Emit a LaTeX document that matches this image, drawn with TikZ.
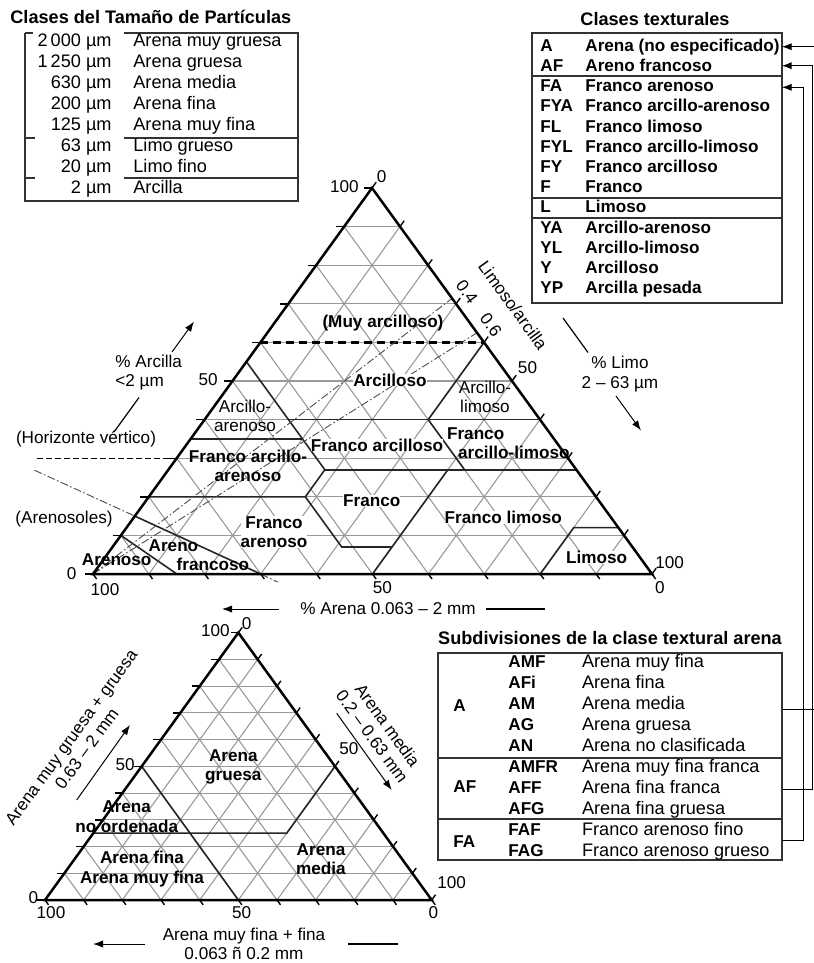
\documentclass[tikz,border=0pt]{standalone}
\usepackage{fontspec}
\setmainfont{Liberation Sans}
\usetikzlibrary{arrows.meta}
\newcommand{\fN}{\fontsize{8.6}{9.6}\selectfont}
\newcommand{\fT}{\fontsize{9.1}{10}\selectfont}

\begin{document}
\begin{tikzpicture}[
    x=0.5bp, y=-0.5bp,
    font=\fN,
    gridl/.style={black!40, line width=0.55bp},
    tedge/.style={line width=1.25bp},
    tickl/.style={line width=0.7bp},
    bound/.style={line width=0.8bp, black!85},
    ratio/.style={line width=0.45bp, black!70, dash pattern=on 4bp off 1.2bp on 0.8bp off 1.2bp},
    vert/.style={line width=0.45bp, dash pattern=on 3bp off 1.5bp},
    heavy/.style={line width=1.2bp, dash pattern=on 4bp off 2.5bp},
    lbl/.style={inner sep=0pt, align=center, font=\fN\bfseries},
    lblw/.style={lbl, fill=white},
    lblr/.style={inner sep=0pt, align=center},
    num/.style={inner sep=0pt},
    arr/.style={-{Latex[length=5bp,width=3.6bp]}, line width=0.5bp},
    tbox/.style={line width=0.9bp, black!80},
    trow/.style={anchor=west, inner sep=0pt, text height=6.3bp, text depth=1.8bp, font=\fT},
    trowb/.style={trow, font=\fN\bfseries},
    link/.style={line width=0.6bp}
  ]
  \useasboundingbox (0,0) rectangle (814,963);

  % particle size classes
  \node[anchor=west, inner sep=0pt, font=\fT\bfseries] (ttlSize) at (10,17) {Clases del Tamaño de Partículas};
  \draw[tbox] (25,33) -- (25,201) -- (298,201) -- (298,33) -- (124,33);
  \draw[tbox] (25,33) -- (33,33);
  \draw[tbox] (25,138) -- (35,138) (124,138) -- (298,138);
  \draw[tbox] (25,178) -- (35,178) (124,178) -- (298,178);
  \foreach \v/\t [count=\i] in {2\,000/Arena muy gruesa, 1\,250/Arena gruesa, 630/Arena media,
      200/Arena fina, 125/Arena muy fina, 63/Limo grueso, 20/Limo fino, 2/Arcilla} {
    \node[trow, anchor=east] (szv\i) at (112,{21+21*\i}) {\v~µm};
    \node[trow] (szn\i) at (133,{21+21*\i}) {\t};
  }

  % textural classes
  \node[font=\fT\bfseries, inner sep=0pt] (ttlTex) at (655,19) {Clases texturales};
  \draw[tbox] (531.7,33.3) rectangle (781.7,303.3);
  \draw[tbox] (531.7,76) -- (781.7,76) (531.7,198.3) -- (781.7,198.3) (531.7,218.3) -- (781.7,218.3);
  \foreach \c/\t [count=\i] in {A/Arena (no especificado), AF/Areno francoso, FA/Franco arenoso,
      FYA/Franco arcillo-arenoso, FL/Franco limoso, FYL/Franco arcillo-limoso, FY/Franco arcilloso,
      F/Franco, L/Limoso, YA/Arcillo-arenoso, YL/Arcillo-limoso, Y/Arcilloso, YP/Arcilla pesada} {
    \node[trowb] (tx\i) at (540,{26.5+20.2*\i}) {\c};
    \node[trowb] (txn\i) at (585,{26.5+20.2*\i}) {\t};
  }

  % sand subclasses
  \node[font=\fT\bfseries, inner sep=0pt] (ttlSub) at (610,638) {Subdivisiones de la clase textural arena};
  \draw[tbox] (438.3,653.3) rectangle (781.7,860);
  \draw[tbox] (438.3,757.7) -- (781.7,757.7) (438.3,819) -- (781.7,819);
  \node[trowb] (sgA) at (453,707.3) {A};
  \node[trowb] (sgAF) at (453,788) {AF};
  \node[trowb] (sgFA) at (453,842.7) {FA};
  \foreach \c/\t [count=\i] in {AMF/Arena muy fina, AFi/Arena fina, AM/Arena media, AG/Arena gruesa,
      AN/Arena no clasificada, AMFR/Arena muy fina franca, AFF/Arena fina franca,
      AFG/Arena fina gruesa, FAF/Franco arenoso fino, FAG/Franco arenoso grueso} {
    \node[trowb] (sb\i) at (508,{642.4+20.93*\i}) {\c};
    \node[trow] (sbn\i) at (581.7,{642.4+20.93*\i}) {\t};
  }

  % links between the tables
  \coordinate (ctA) at (781.7,46.7);
  \coordinate (ctAF) at (781.7,65.7);
  \coordinate (ctFA) at (781.7,87.3);
  \coordinate (sbA) at (781.7,709.3);
  \coordinate (sbAF) at (781.7,789.3);
  \coordinate (sbFA) at (781.7,840);
  \coordinate (busA) at (817,0);
  \coordinate (busAF) at (812.5,0);
  \coordinate (busFA) at (803.3,0);
  \draw[link, arr] (sbA) -- (sbA -| busA) -- (ctA -| busA) -- (ctA);
  \draw[link, arr] (sbAF) -- (sbAF -| busAF) -- (ctAF -| busAF) -- (ctAF);
  \draw[link, arr] (sbFA) -- (sbFA -| busFA) -- (ctFA -| busFA) -- (ctFA);

  % main triangle (silt, clay)
  \begin{scope}[shift={(93,574)}, x={(2.795bp,0bp)}, y={(1.395bp,1.93bp)}]
    \foreach \i in {10,20,...,90} {
      \draw[gridl] (0,\i) -- ({100-\i},\i);
      \draw[gridl] (\i,0) -- (\i,{100-\i});
      \draw[gridl] ({100-\i},0) -- (0,{100-\i});
    }
    \foreach \i in {0,10,...,100} {
      \draw[tickl] (0,\i) -- (-1.5,\i);
      \draw[tickl] (\i,{100-\i}) -- (\i,{101.5-\i});
      \draw[tickl] (\i,0) -- ({\i+1.3},-1.3);
    }
    \draw[bound] (15,0) -- (0,10);
    \draw[bound] (30,0) -- (0,15);
    \draw[bound] (0,20) -- (28,20) -- (28,27) -- (0,55);
    \draw[bound] (28,20) -- (41,7) -- (50,7);
    \draw[bound] (50,0) -- (50,27);
    \draw[bound] (28,27) -- (73,27);
    \draw[bound] (0,35) -- (20,35);
    \draw[bound] (15,40) -- (60,40);
    \draw[bound] (53,27) -- (40,40) -- (40,60);
    \draw[bound] (80,0) -- (80,12) -- (88,12);
    \draw[heavy] (0,60) -- (40,60);
    \draw[ratio] (0,0) -- (28.6,71.4);
    \draw[ratio] (0,0) -- (37.5,62.5);
    \draw[ratio] (-23.9,26.9) -- (0,15);
    \draw[ratio] (30,0) -- (34.1,-2.1);
    \draw[vert] (-25,30) -- (0,30);
    \draw[tedge] (0,0) coordinate (mL) -- (100,0) coordinate (mR) -- (0,100) coordinate (mT) -- cycle;
  \end{scope}

  % main triangle labels
  \node[lbl] (lblMA) at (383,323) {(Muy arcilloso)};
  \node[lblw] (lblY) at (390,380) {Arcilloso};
  \node[lblr] (lblYL) at (485,397) {Arcillo-\\limoso};
  \node[lblr] (lblYA) at (245,416) {Arcillo-\\arenoso};
  \node[lblw] (lblFY) at (377,445) {Franco arcilloso};
  \node[lbl, anchor=west, align=left] (lblFYL) at (446.7,443.5) {Franco\\\hspace*{5.5bp}arcillo-limoso};
  \node[lbl] (lblFYA) at (248,466) {Franco arcillo-\\arenoso};
  \node[lblw] (lblF) at (371.7,500.7) {Franco};
  \node[lblw] (lblFL) at (503.3,517.3) {Franco limoso};
  \node[lblw] (lblL) at (596.7,557.3) {Limoso};
  \node[lblw] (lblFA) at (274,532) {Franco\\arenoso};
  \node[lbl, anchor=west, align=left] (lblAF) at (148.3,555) {Areno\\\hspace*{14bp}francoso};
  \node[lbl] (lblA) at (116.7,559.3) {Arenoso};

  \node[num, anchor=east] (nT1) at (359,187) {100};
  \node[num] (nT2) at (381.7,177) {0};
  \node[num, anchor=east] (nL50) at (218,380) {50};
  \node[num] (nL0) at (71.7,573.3) {0};
  \node[num] (nB100) at (105,590) {100};
  \node[num] (nB50) at (382.5,588) {50};
  \node[num] (nB0) at (660,588) {0};
  \node[num, anchor=west] (nR100) at (655,563) {100};
  \node[num] (nR50) at (527.5,368) {50};

  \node[lblr] (lblHV) at (86,439) {(Horizonte vértico)};
  \node[lblr] (lblAS) at (64,519) {(Arenosoles)};
  \node[inner sep=0pt, align=left, anchor=west] (lblClay) at (115,372.5) {\% Arcilla\\<2 µm};
  \node[lblr] (lblSilt) at (620,374) {\% Limo\\2 – 63 µm};
  \node[lblr] (lblSand) at (388,609) {\% Arena 0.063 – 2 mm};
  \node[lblr, rotate=-54] (lblRatio) at (513,305) {Limoso/arcilla};
  \node[lblr, rotate=-54] (lblR04) at (467,292) {0.4};
  \node[lblr, rotate=-54] (lblR06) at (491,325) {0.6};

  \coordinate (clayA) at (114,432);
  \coordinate (clayB) at (139,397.5);
  \coordinate (clayC) at (172,352);
  \coordinate (clayD) at (194,321.6);
  \draw[link] (clayA) -- (clayB);
  \draw[arr] (clayC) -- (clayD);
  \coordinate (siltA) at (563,318);
  \coordinate (siltB) at (588,352.5);
  \coordinate (siltC) at (616,396);
  \coordinate (siltD) at (641,430.5);
  \draw[link] (siltA) -- (siltB);
  \draw[arr] (siltC) -- (siltD);
  \coordinate (sandA) at (279,609);
  \coordinate (sandB) at (222,609);
  \coordinate (sandC) at (486,609);
  \coordinate (sandD) at (545,609);
  \draw[arr] (sandA) -- (sandB);
  \draw[link] (sandC) -- (sandD);

  % sand triangle (medium, coarse)
  \begin{scope}[shift={(45,900)}, x={(1.9335bp,0bp)}, y={(0.9667bp,1.3365bp)}]
    \foreach \i in {10,20,...,90} {
      \draw[gridl] (0,\i) -- ({100-\i},\i);
      \draw[gridl] (\i,0) -- (\i,{100-\i});
      \draw[gridl] ({100-\i},0) -- (0,{100-\i});
    }
    \foreach \i in {0,10,...,100} {
      \draw[tickl] (0,\i) -- (-2,\i);
      \draw[tickl] (\i,{100-\i}) -- (\i,{102-\i});
      \draw[tickl] (\i,0) -- ({\i+1.8},-1.8);
    }
    \draw[bound] (0,50) -- (50,0);
    \draw[bound] (50,50) -- (50,25) -- (0,25);
    \draw[tedge] (0,0) coordinate (sL) -- (100,0) coordinate (sR) -- (0,100) coordinate (sT) -- cycle;
  \end{scope}

  \node[lbl] (slG) at (233.3,766.7) {Arena\\gruesa};
  \node[lbl] (slNO) at (126.7,816.7) {Arena\\no ordenada};
  \node[lbl] (slF) at (142,869) {Arena fina\\Arena muy fina};
  \node[lbl] (slM) at (321,859) {Arena\\media};

  \node[num, anchor=east] (sT1) at (230,631) {100};
  \node[num] (sT2) at (246.7,624) {0};
  \node[num, anchor=east] (sL50) at (135,765) {50};
  \node[num] (sR50) at (349,749) {50};
  \node[num] (sL0) at (33.3,897.3) {0};
  \node[num] (sB100) at (51,913) {100};
  \node[num] (sB50) at (241.7,913) {50};
  \node[num] (sB0) at (433.3,912.7) {0};
  \node[num] (sR100) at (451.7,883) {100};

  \node[lblr, rotate=54] (slAxL) at (79,743) {Arena muy gruesa + gruesa\\0.63 – 2 mm};
  \node[lblr, rotate=-54] (slAxR) at (380,731) {Arena media\\0.2 – 0.63 mm};
  \node[lblr] (slAxB) at (244,944) {Arena muy fina + fina\\0.063 ñ 0.2 mm};

  \coordinate (crsA) at (76.7,800);
  \coordinate (crsB) at (130,725);
  \draw[arr] (crsA) -- (crsB);
  \coordinate (medA) at (336.7,713.3);
  \coordinate (medB) at (391.7,790);
  \draw[arr] (medA) -- (medB);
  \coordinate (finA) at (145,944);
  \coordinate (finB) at (93,944);
  \coordinate (finC) at (348,944);
  \coordinate (finD) at (398,944);
  \draw[arr] (finA) -- (finB);
  \draw[link] (finC) -- (finD);
\end{tikzpicture}
\end{document}
